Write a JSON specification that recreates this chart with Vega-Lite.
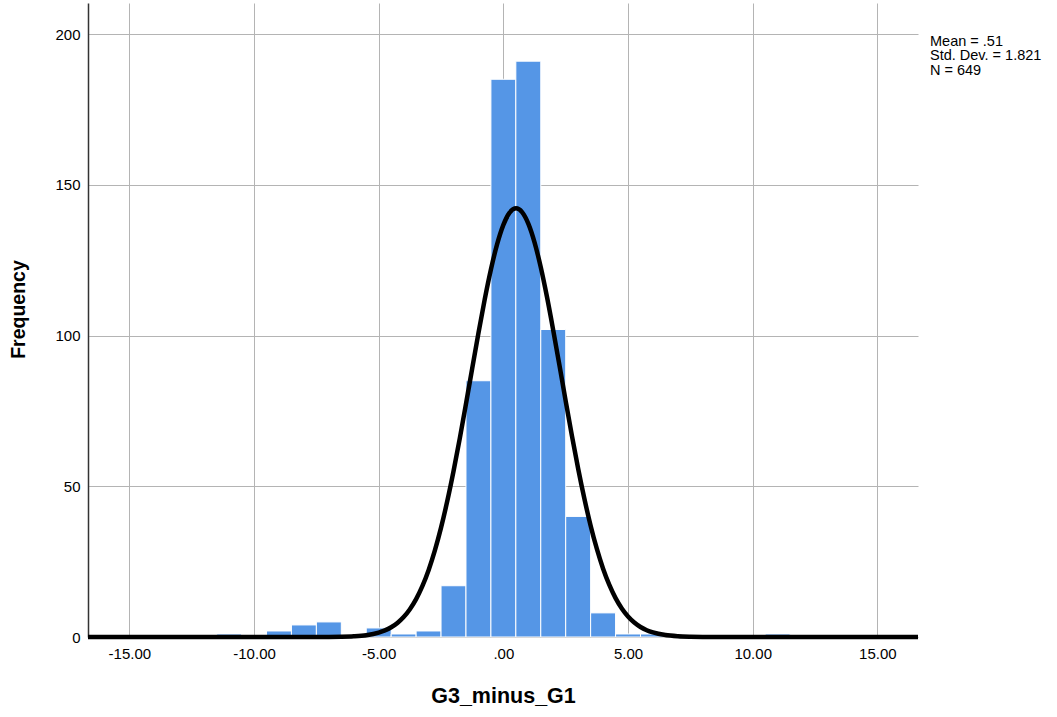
{
  "$schema": "https://vega.github.io/schema/vega-lite/v6.json",
  "width": 830,
  "height": 634,
  "autosize": {"type": "none"},
  "padding": {"left": 88, "top": 3, "right": 139, "bottom": 80},
  "background": "white",
  "config": {
    "view": {"stroke": null},
    "font": "Liberation Sans",
    "axis": {"labelFont": "Liberation Sans", "titleFont": "Liberation Sans"}
  },
  "datasets": {
    "bins": [
      {"bin_start": -11.5, "bin_end": -10.5, "count": 1},
      {"bin_start": -9.5, "bin_end": -8.5, "count": 2},
      {"bin_start": -8.5, "bin_end": -7.5, "count": 4},
      {"bin_start": -7.5, "bin_end": -6.5, "count": 5},
      {"bin_start": -5.5, "bin_end": -4.5, "count": 3},
      {"bin_start": -4.5, "bin_end": -3.5, "count": 1},
      {"bin_start": -3.5, "bin_end": -2.5, "count": 2},
      {"bin_start": -2.5, "bin_end": -1.5, "count": 17},
      {"bin_start": -1.5, "bin_end": -0.5, "count": 85},
      {"bin_start": -0.5, "bin_end": 0.5, "count": 185},
      {"bin_start": 0.5, "bin_end": 1.5, "count": 191},
      {"bin_start": 1.5, "bin_end": 2.5, "count": 102},
      {"bin_start": 2.5, "bin_end": 3.5, "count": 40},
      {"bin_start": 3.5, "bin_end": 4.5, "count": 8},
      {"bin_start": 4.5, "bin_end": 5.5, "count": 1},
      {"bin_start": 5.5, "bin_end": 6.5, "count": 1},
      {"bin_start": 10.5, "bin_end": 11.5, "count": 1}
    ],
    "curve": [
      {"x": -16.66, "y": 0},
      {"x": -8, "y": 0.0},
      {"x": -7, "y": 0.02},
      {"x": -6.5, "y": 0.08},
      {"x": -6, "y": 0.24},
      {"x": -5.5, "y": 0.61},
      {"x": -5, "y": 1.46},
      {"x": -4.75, "y": 2.19},
      {"x": -4.5, "y": 3.23},
      {"x": -4.25, "y": 4.67},
      {"x": -4, "y": 6.62},
      {"x": -3.75, "y": 9.22},
      {"x": -3.5, "y": 12.58},
      {"x": -3.25, "y": 16.86},
      {"x": -3, "y": 22.18},
      {"x": -2.75, "y": 28.65},
      {"x": -2.5, "y": 36.27},
      {"x": -2.25, "y": 45.08},
      {"x": -2, "y": 54.98},
      {"x": -1.75, "y": 65.81},
      {"x": -1.5, "y": 77.32},
      {"x": -1.25, "y": 89.12},
      {"x": -1, "y": 100.82},
      {"x": -0.75, "y": 111.91},
      {"x": -0.5, "y": 121.9},
      {"x": -0.25, "y": 130.32},
      {"x": 0, "y": 136.71},
      {"x": 0.25, "y": 140.74},
      {"x": 0.51, "y": 142.18},
      {"x": 0.75, "y": 140.95},
      {"x": 1, "y": 137.12},
      {"x": 1.25, "y": 130.91},
      {"x": 1.5, "y": 122.64},
      {"x": 1.75, "y": 112.76},
      {"x": 2, "y": 101.73},
      {"x": 2.25, "y": 90.07},
      {"x": 2.5, "y": 78.26},
      {"x": 2.75, "y": 66.73},
      {"x": 3, "y": 55.82},
      {"x": 3.25, "y": 45.84},
      {"x": 3.5, "y": 36.92},
      {"x": 3.75, "y": 29.2},
      {"x": 4, "y": 22.65},
      {"x": 4.25, "y": 17.26},
      {"x": 4.5, "y": 12.89},
      {"x": 4.75, "y": 9.46},
      {"x": 5, "y": 6.8},
      {"x": 5.25, "y": 4.8},
      {"x": 5.5, "y": 3.33},
      {"x": 5.75, "y": 2.26},
      {"x": 6, "y": 1.51},
      {"x": 6.5, "y": 0.64},
      {"x": 7, "y": 0.25},
      {"x": 7.5, "y": 0.09},
      {"x": 8, "y": 0.03},
      {"x": 9, "y": 0.0},
      {"x": 16.63, "y": 0}
    ],
    "stats": [
      {"label": "Mean = .51\nStd. Dev. = 1.821\nN = 649"}
    ]
  },
  "layer": [
    {
      "data": {"name": "bins"},
      "mark": {"type": "bar", "color": "#5596e6", "stroke": "white", "strokeWidth": 1},
      "encoding": {
        "x": {
          "field": "bin_start",
          "type": "quantitative",
          "scale": {"domain": [-16.66, 16.63], "nice": false, "zero": false},
          "axis": {
            "values": [-15, -10, -5, 0, 5, 10, 15],
            "labelExpr": "datum.value == 0 ? '.00' : (datum.value < 0 ? '-' + format(-datum.value, '.2f') : format(datum.value, '.2f'))",
            "grid": true,
            "gridColor": "#b4b4b4",
            "gridWidth": 1,
            "domain": false,
            "ticks": false,
            "labelFontSize": 15,
            "labelColor": "#000000",
            "labelPadding": 9,
            "title": "G3_minus_G1",
            "titleFontSize": 21.5,
            "titleFontWeight": "bold",
            "titleColor": "#000000",
            "titlePadding": 24
          }
        },
        "x2": {"field": "bin_end"},
        "y": {
          "field": "count",
          "type": "quantitative",
          "scale": {"domain": [0, 210.3], "nice": false},
          "axis": {
            "values": [0, 50, 100, 150, 200],
            "grid": true,
            "gridColor": "#b4b4b4",
            "gridWidth": 1,
            "domain": true,
            "domainColor": "#333333",
            "domainWidth": 1.5,
            "ticks": false,
            "labelFontSize": 15,
            "labelColor": "#000000",
            "labelPadding": 8,
            "title": "Frequency",
            "titleFontSize": 19.5,
            "titleFontWeight": "bold",
            "titleColor": "#000000",
            "titlePadding": 26,
            "titleY": 306
          }
        },
        "y2": {"datum": 0}
      }
    },
    {
      "data": {"name": "curve"},
      "mark": {"type": "line", "color": "#000000", "strokeWidth": 4.5, "interpolate": "monotone"},
      "encoding": {
        "x": {"field": "x", "type": "quantitative"},
        "y": {"field": "y", "type": "quantitative"}
      }
    },
    {
      "data": {"name": "stats"},
      "mark": {
        "type": "text",
        "align": "left",
        "baseline": "top",
        "dx": 12,
        "fontSize": 14.5,
        "lineHeight": 14.6,
        "lineBreak": "\n",
        "color": "#000000",
        "font": "Liberation Sans"
      },
      "encoding": {
        "text": {"field": "label", "type": "nominal"},
        "x": {"datum": 16.63, "type": "quantitative"},
        "y": {"datum": 199.8, "type": "quantitative"}
      }
    }
  ]
}
